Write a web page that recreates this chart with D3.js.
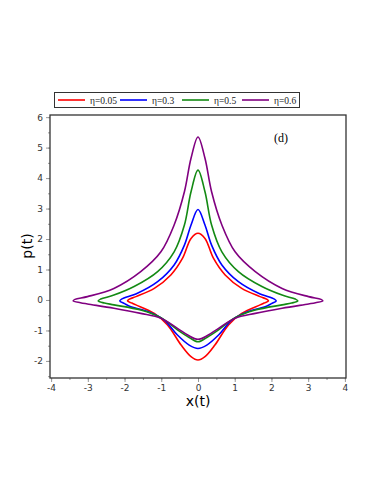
<!DOCTYPE html>
<html>
<head>
<meta charset="utf-8">
<script src="https://cdn.jsdelivr.net/npm/d3@7"></script>
<style>
  html, body { margin: 0; padding: 0; background: #fff; }
  svg { display: block; }
</style>
</head>
<body>
<svg id="chart" width="374" height="484"></svg>
<script>
// legend labels and colours
const labels = ["η=0.05", "η=0.3", "η=0.5", "η=0.6"];
const colors = ["#ff0000", "#0000ff", "#138a13", "#800080"];

// closed trajectories, [x, p]
const red = [
  [0, 2.19], [0.19, 2.02], [0.42, 1.37], [0.74, 0.82], [1.19, 0.38], [1.69, 0.11], [1.88, 0.02],
  [1.92, -0.03], [1.8, -0.1], [1.69, -0.16], [1.19, -0.44], [0.83, -0.82], [0.46, -1.48], [0.19, -1.86],
  [0, -1.97], [-0.19, -1.86], [-0.46, -1.48], [-0.83, -0.82], [-1.19, -0.44], [-1.69, -0.16], [-1.8, -0.1],
  [-1.92, -0.03], [-1.88, 0.02], [-1.69, 0.11], [-1.19, 0.38], [-0.74, 0.82], [-0.42, 1.37], [-0.19, 2.02]
];
const blue = [
  [0, 2.97], [0.19, 2.46], [0.37, 1.80], [0.65, 1.15], [1.10, 0.60], [1.65, 0.22], [2.08, 0.03],
  [2.13, -0.03], [2.0, -0.12], [1.83, -0.22], [1.37, -0.38], [0.92, -0.66], [0.56, -1.15], [0.24, -1.48],
  [0, -1.59], [-0.24, -1.48], [-0.56, -1.15], [-0.92, -0.66], [-1.37, -0.38], [-1.83, -0.22], [-2.0, -0.12],
  [-2.13, -0.03], [-2.08, 0.03], [-1.65, 0.22], [-1.10, 0.60], [-0.65, 1.15], [-0.37, 1.80], [-0.19, 2.46]
];
const green = [
  [0, 4.26], [0.19, 3.55], [0.37, 2.46], [0.65, 1.58], [1.10, 0.93], [1.74, 0.44], [2.29, 0.16], [2.65, 0.03],
  [2.72, -0.03], [2.55, -0.1], [2.29, -0.16], [1.56, -0.33], [1.01, -0.58], [0.56, -0.98], [0.24, -1.23],
  [0, -1.37], [-0.24, -1.23], [-0.56, -0.98], [-1.01, -0.58], [-1.56, -0.33], [-2.29, -0.16], [-2.55, -0.1],
  [-2.72, -0.03], [-2.65, 0.03], [-2.29, 0.16], [-1.74, 0.44], [-1.10, 0.93], [-0.65, 1.58], [-0.37, 2.46], [-0.19, 3.55]
];
const purple = [
  [0, 5.35], [0.19, 4.65], [0.37, 3.55], [0.65, 2.46], [1.01, 1.58], [1.56, 0.93], [2.29, 0.38], [3.01, 0.11], [3.35, 0.02],
  [3.40, -0.03], [3.2, -0.09], [3.01, -0.13], [2.29, -0.27], [1.56, -0.44], [1.01, -0.60], [0.56, -0.93], [0.28, -1.15],
  [0, -1.29], [-0.28, -1.15], [-0.56, -0.93], [-1.01, -0.60], [-1.56, -0.44], [-2.29, -0.27], [-3.01, -0.13], [-3.2, -0.09],
  [-3.40, -0.03], [-3.35, 0.02], [-3.01, 0.11], [-2.29, 0.38], [-1.56, 0.93], [-1.01, 1.58], [-0.65, 2.46], [-0.37, 3.55], [-0.19, 4.65]
];

const xTicks = [-4, -3, -2, -1, 0, 1, 2, 3, 4];
const yTicks = [-2, -1, 0, 1, 2, 3, 4, 5, 6];

const svg = d3.select('#chart');
svg.append('rect').attr('width', 374).attr('height', 484).attr('fill', '#fff');

const x = d3.scaleLinear().domain([-4.03, 4.03]).range([50, 346]);
const y = d3.scaleLinear().domain([-2.56, 6.07]).range([378, 115]);

// minor ticks every 0.5
const xMinor = d3.range(-4, 4.01, 0.5);
const yMinor = d3.range(-2.5, 6.01, 0.5);

svg.append('g')
    .attr('transform', 'translate(0,378)')
    .call(d3.axisBottom(x).tickValues(xMinor).tickSize(2).tickFormat(''))
    .call(g => g.select('.domain').remove())
    .call(g => g.selectAll('line').attr('stroke', '#999'));

svg.append('g')
    .attr('transform', 'translate(50,0)')
    .call(d3.axisLeft(y).tickValues(yMinor).tickSize(2).tickFormat(''))
    .call(g => g.select('.domain').remove())
    .call(g => g.selectAll('line').attr('stroke', '#999'));

const xAxis = svg.append('g')
    .attr('transform', 'translate(0,378)')
    .call(d3.axisBottom(x).tickValues(xTicks).tickSize(4).tickPadding(3).tickFormat(d => String(d)));
xAxis.select('.domain').remove();
xAxis.selectAll('line').attr('stroke', '#999');
xAxis.selectAll('text').attr('font-family', 'DejaVu Sans').attr('font-size', 9).attr('fill', '#333');

const yAxis = svg.append('g')
    .attr('transform', 'translate(50,0)')
    .call(d3.axisLeft(y).tickValues(yTicks).tickSize(4).tickPadding(3).tickFormat(d => String(d)));
yAxis.select('.domain').remove();
yAxis.selectAll('line').attr('stroke', '#999');
yAxis.selectAll('text').attr('font-family', 'DejaVu Sans').attr('font-size', 9).attr('fill', '#333');

// curves
const line = d3.line()
    .x(d => x(d[0]))
    .y(d => y(d[1]))
    .curve(d3.curveCatmullRomClosed.alpha(0.5));

[red, blue, green, purple].forEach((c, i) => {
    svg.append('path')
        .attr('d', line(c))
        .attr('fill', 'none')
        .attr('stroke', colors[i])
        .attr('stroke-width', 1.6);
});

// frame
svg.append('rect')
    .attr('x', 50).attr('y', 115).attr('width', 296).attr('height', 263)
    .attr('fill', 'none').attr('stroke', '#333').attr('stroke-width', 1.3);

svg.append('text')
    .attr('x', 281).attr('y', 142)
    .attr('text-anchor', 'middle')
    .attr('font-family', 'Liberation Serif').attr('font-size', 12)
    .text('(d)');

// axis titles
svg.append('text')
    .attr('x', 198).attr('y', 406)
    .attr('text-anchor', 'middle')
    .attr('font-family', 'DejaVu Sans').attr('font-size', 14)
    .text('x(t)');

svg.append('text')
    .attr('transform', 'translate(32,246) rotate(-90)')
    .attr('text-anchor', 'middle')
    .attr('font-family', 'DejaVu Sans').attr('font-size', 14)
    .text('p(t)');

// legend
const legend = svg.append('g');
legend.append('rect')
    .attr('x', 54.5).attr('y', 92.5).attr('width', 245).attr('height', 15)
    .attr('fill', '#fff').attr('stroke', '#333').attr('stroke-width', 1);

const legX = [58, 120, 182, 242];
labels.forEach((t, i) => {
    legend.append('line')
        .attr('x1', legX[i]).attr('x2', legX[i] + 27)
        .attr('y1', 100).attr('y2', 100)
        .attr('stroke', colors[i]).attr('stroke-width', 1.6);
    legend.append('text')
        .attr('x', legX[i] + 32).attr('y', 103.5)
        .attr('font-family', 'Liberation Serif').attr('font-size', 9.5)
        .attr('fill', '#222')
        .text(t);
});
</script>
</body>
</html>
